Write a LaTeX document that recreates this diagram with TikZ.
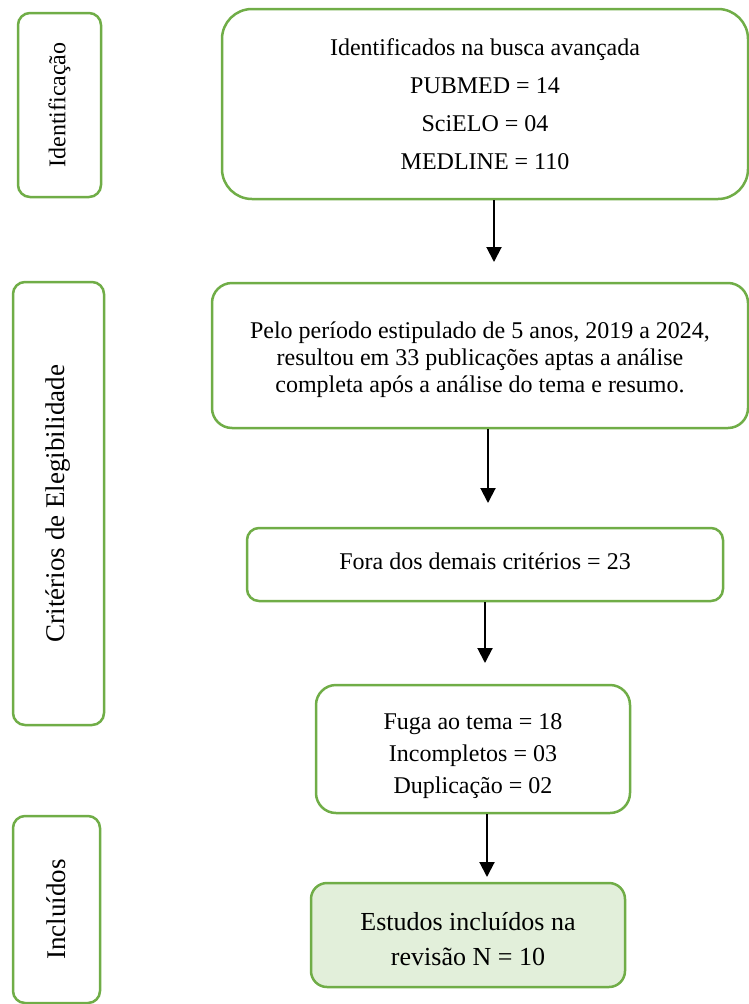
\documentclass[tikz,border=0pt]{standalone}
\usepackage{fontspec}
\setmainfont{Liberation Serif}
\usetikzlibrary{arrows.meta}
\definecolor{verde}{HTML}{70AD47}
\definecolor{verdeclaro}{HTML}{E2EFDA}
\newcommand{\desce}[1]{\rule{0pt}{#1}}
\tikzset{
  caixa/.style={draw=verde, line width=2.5pt, fill=white, align=center, inner sep=0pt},
  fase/.style={caixa, rotate=90, rounded corners=12pt},
  seta/.style={-{Triangle[width=15pt,length=15pt]}, line width=2pt},
}

\begin{document}
\begin{tikzpicture}[x=1pt,y=-1pt]
   \useasboundingbox (0,0) rectangle (749,1004);
   \node[fase, font=\fontsize{24}{28}\selectfont, minimum width=184, minimum height=83] (ident) at (59.5,105) {Identificação};
   \node[fase, font=\fontsize{27}{30}\selectfont, minimum width=443, minimum height=91] (crit) at (58.5,503.5) {Critérios de Elegibilidade};
   \node[fase, font=\fontsize{27}{30}\selectfont, minimum width=187, minimum height=87] (incl) at (56.5,909.5) {Incluídos};
   \node[caixa, font=\fontsize{24}{38}\selectfont, rounded corners=30pt, minimum width=526, minimum height=190] (busca) at (485,104)
      {Identificados na busca avançada\\ PUBMED = 14\\ SciELO = 04\\ MEDLINE = 110};
   \node[caixa, font=\fontsize{24}{27}\selectfont, rounded corners=20pt, minimum width=536, minimum height=145] (periodo) at (480,355.5)
      {\desce{25pt}Pelo período estipulado de 5 anos, 2019 a 2024,\\ resultou em 33 publicações aptas a análise\\ completa após a análise do tema e resumo.};
   \node[caixa, font=\fontsize{24}{28}\selectfont, rounded corners=12pt, minimum width=476, minimum height=73] (fora) at (485,564.5)
      {\raisebox{6pt}{Fora dos demais critérios = 23}};
   \node[caixa, font=\fontsize{24}{32}\selectfont, rounded corners=20pt, minimum width=314, minimum height=128] (fuga) at (473,749)
      {\desce{30pt}Fuga ao tema = 18\\ Incompletos = 03\\ Duplicação = 02};
   \node[caixa, font=\fontsize{26}{35}\selectfont, rounded corners=16pt, fill=verdeclaro, minimum width=314, minimum height=104] (estudos) at (468,935)
      {\desce{26pt}Estudos incluídos na\\ revisão N = 10};
   \coordinate (s1) at (494,262);
   \coordinate (s2) at (488,503);
   \coordinate (s3) at (485,663);
   \coordinate (s4) at (487,877);
   \draw[seta] (busca.south -| s1) -- (s1);
   \draw[seta] (periodo.south -| s2) -- (s2);
   \draw[seta] (fora.south -| s3) -- (s3);
   \draw[seta] (fuga.south -| s4) -- (s4);
\end{tikzpicture}
\end{document}
